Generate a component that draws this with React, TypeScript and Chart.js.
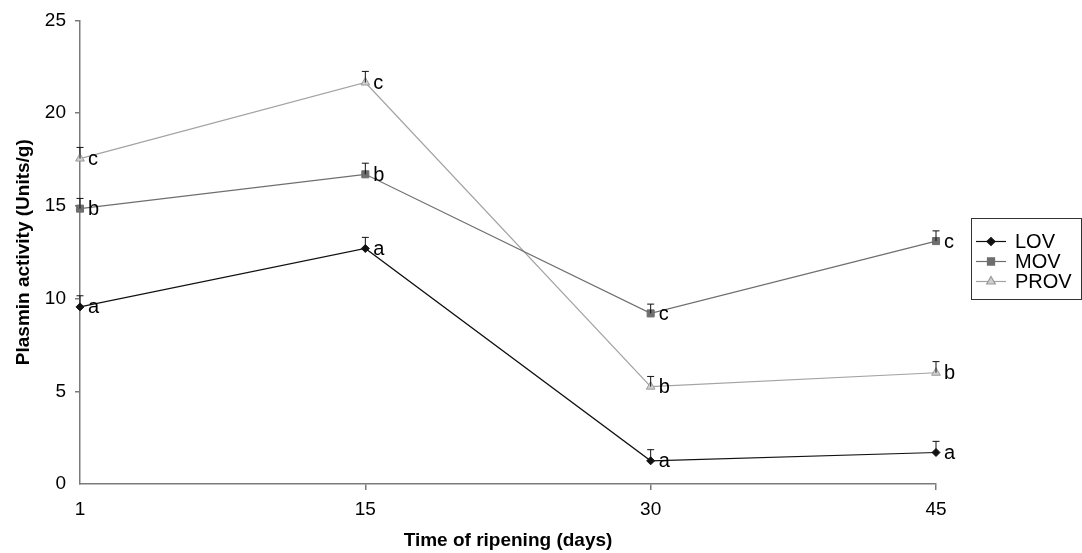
import React, { useEffect, useRef } from 'react';
import { Chart, registerables } from 'chart.js';
import { drawPoint } from 'chart.js/helpers';

Chart.register(...registerables);

const days = ['1', '15', '30', '45'];
const lovValues = [9.55, 12.7, 1.25, 1.7];
const movValues = [14.85, 16.7, 9.2, 13.1];
const provValues = [17.55, 21.65, 5.25, 6.0];
const lovErrors = [0.6, 0.6, 0.6, 0.6];
const movErrors = [0.55, 0.6, 0.5, 0.55];
const provErrors = [0.6, 0.6, 0.55, 0.6];
const lovLetters = ['a', 'a', 'a', 'a'];
const movLetters = ['b', 'b', 'c', 'c'];
const provLetters = ['c', 'c', 'b', 'b'];
const seriesNames = ['LOV', 'MOV', 'PROV'];

const FONT = '"Liberation Sans", Arial, Helvetica, sans-serif';
const AXIS = '#7a7a7a';

const errorAndLetters = {
  id: 'errorAndLetters',
  afterDatasetsDraw(chart: any) {
    const ctx = chart.ctx;
    const yScale = chart.scales.y;
    ctx.save();
    chart.data.datasets.forEach((ds: any, di: number) => {
      const meta = chart.getDatasetMeta(di);
      meta.data.forEach((pt: any, i: number) => {
        const x = pt.x;
        const y = pt.y;
        const top = yScale.getPixelForValue(ds.data[i] + ds.errors[i]);
        ctx.strokeStyle = '#111';
        ctx.lineWidth = 1;
        ctx.beginPath();
        ctx.moveTo(x, y);
        ctx.lineTo(x, top);
        ctx.moveTo(x - 3.5, top);
        ctx.lineTo(x + 3.5, top);
        ctx.stroke();
        ctx.fillStyle = '#000';
        ctx.font = `20px ${FONT}`;
        ctx.textAlign = 'left';
        ctx.textBaseline = 'middle';
        ctx.fillText(ds.letters[i], x + 8, y + 1);
      });
    });
    ctx.restore();
  },
};

const boxLegend = {
  id: 'boxLegend',
  afterDraw(chart: any) {
    const ctx = chart.ctx;
    const area = chart.chartArea;
    const left = area.right + 35;
    const top = 218;
    const w = 110;
    const h = 81;
    ctx.save();
    ctx.strokeStyle = '#333';
    ctx.lineWidth = 1;
    ctx.strokeRect(left + 0.5, top + 0.5, w, h);
    chart.data.datasets.forEach((ds: any, i: number) => {
      const cy = top + 23.5 + 20 * i;
      ctx.strokeStyle = ds.borderColor;
      ctx.lineWidth = 1.2;
      ctx.beginPath();
      ctx.moveTo(left + 5, cy);
      ctx.lineTo(left + 35, cy);
      ctx.stroke();
      ctx.fillStyle = ds.pointBackgroundColor;
      ctx.strokeStyle = ds.pointBorderColor;
      drawPoint(ctx, { pointStyle: ds.pointStyle, radius: ds.pointRadius, rotation: 0, borderWidth: 1 }, left + 20, cy);
      ctx.fillStyle = '#000';
      ctx.font = `20px ${FONT}`;
      ctx.textAlign = 'left';
      ctx.textBaseline = 'middle';
      ctx.fillText(ds.label, left + 44, cy + 1);
    });
    ctx.restore();
  },
};

export default function App() {
  const ref = useRef<HTMLCanvasElement | null>(null);
  useEffect(() => {
    if (!ref.current) return;
    const chart = new Chart(ref.current, {
      type: 'line',
      data: {
        labels: days,
        datasets: [
          {
            label: seriesNames[0],
            data: lovValues,
            errors: lovErrors,
            letters: lovLetters,
            borderColor: '#111',
            borderWidth: 1.2,
            pointStyle: 'rectRot',
            pointRadius: 4,
            pointBackgroundColor: '#111',
            pointBorderColor: '#111',
            pointBorderWidth: 1,
            clip: false,
          } as any,
          {
            label: seriesNames[1],
            data: movValues,
            errors: movErrors,
            letters: movLetters,
            borderColor: '#6e6e6e',
            borderWidth: 1.2,
            pointStyle: 'rect',
            pointRadius: 5,
            pointBackgroundColor: '#6e6e6e',
            pointBorderColor: '#6e6e6e',
            pointBorderWidth: 1,
            clip: false,
          } as any,
          {
            label: seriesNames[2],
            data: provValues,
            errors: provErrors,
            letters: provLetters,
            borderColor: '#a3a3a3',
            borderWidth: 1.2,
            pointStyle: 'triangle',
            pointRadius: 5,
            pointBackgroundColor: '#d0d0d0',
            pointBorderColor: '#9a9a9a',
            pointBorderWidth: 1,
            clip: false,
          } as any,
        ],
      },
      options: {
        animation: false,
        responsive: false,
        maintainAspectRatio: false,
        events: [],
        layout: { padding: { top: 17, right: 146, left: 0, bottom: 0 } },
        plugins: { legend: { display: false }, tooltip: { enabled: false } },
        elements: { line: { tension: 0 } },
        scales: {
          x: {
            type: 'category',
            offset: false,
            afterFit: (s: any) => { s.height = 69; },
            grid: {
              display: true,
              drawOnChartArea: false,
              drawTicks: true,
              tickLength: 6,
              color: (c: any) => (c.index === 0 ? 'rgba(0,0,0,0)' : AXIS),
              lineWidth: 1.5,
            },
            border: { display: true, color: AXIS, width: 1.5 },
            ticks: {
              color: '#000',
              font: { family: FONT, size: 19 },
              padding: 8,
              autoSkip: false,
              maxRotation: 0,
            },
            title: {
              display: true,
              text: 'Time of ripening (days)',
              color: '#000',
              font: { family: FONT, size: 19, weight: 'bold' },
              padding: { top: 0, bottom: 1 },
            },
          },
          y: {
            min: 0,
            max: 25,
            afterFit: (s: any) => { s.width = 80; },
            grid: {
              display: true,
              drawOnChartArea: false,
              drawTicks: true,
              tickLength: 5,
              color: (c: any) => (c.index === 0 ? 'rgba(0,0,0,0)' : AXIS),
              lineWidth: 1.5,
            },
            border: { display: true, color: AXIS, width: 1.5 },
            ticks: {
              stepSize: 5,
              color: '#000',
              font: { family: FONT, size: 19 },
              padding: 9,
            },
            title: {
              display: true,
              text: 'Plasmin activity (Units/g)',
              color: '#000',
              font: { family: FONT, size: 19, weight: 'bold' },
              padding: { top: 12, bottom: 0 },
            },
          },
        },
      },
      plugins: [errorAndLetters, boxLegend],
    } as any);
    return () => chart.destroy();
  }, []);
  return (
    <div style={{ position: 'fixed', left: 0, top: 0, width: 1082, height: 553, background: '#fff' }}>
      <canvas ref={ref} width={1082} height={553} />
    </div>
  );
}
